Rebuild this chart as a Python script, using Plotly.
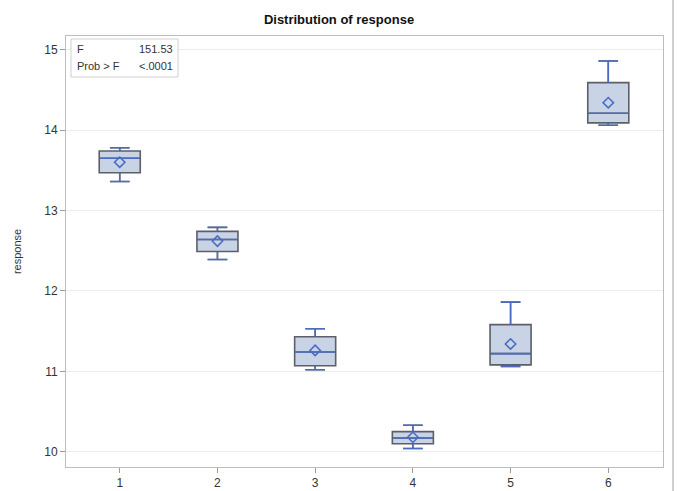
import plotly.graph_objects as go

groups = [1, 2, 3, 4, 5, 6]
q1 = [13.47, 12.49, 11.07, 10.10, 11.08, 14.09]
median = [13.65, 12.64, 11.24, 10.17, 11.22, 14.21]
q3 = [13.74, 12.74, 11.43, 10.25, 11.58, 14.59]
lower = [13.36, 12.39, 11.02, 10.04, 11.06, 14.06]
upper = [13.78, 12.79, 11.53, 10.33, 11.86, 14.86]
means = [13.60, 12.62, 11.26, 10.18, 11.34, 14.34]

BOXW = 0.42
CAPW = 0.10
BLUE = "#4a6cc2"
GRAY = "#5c5f68"
FILL = "#c8d3e6"
FONT = "Liberation Sans, Arial, sans-serif"

fig = go.Figure()
fig.add_trace(go.Box(
    x=groups, q1=q1, median=median, q3=q3, lowerfence=lower, upperfence=upper,
    width=BOXW, whiskerwidth=0.48, fillcolor=FILL,
    line=dict(color=GRAY, width=1.6), showlegend=False, hoverinfo="skip",
))

# blue whiskers and median lines
wx, wy, mx, my = [], [], [], []
for g, a, b, lo, hi, m in zip(groups, q1, q3, lower, upper, median):
    wx += [g, g, None, g - CAPW, g + CAPW, None, g, g, None, g - CAPW, g + CAPW, None]
    wy += [b, hi, None, hi, hi, None, a, lo, None, lo, lo, None]
    mx += [g - BOXW / 2 + 0.01, g + BOXW / 2 - 0.01, None]
    my += [m, m, None]
fig.add_trace(go.Scatter(x=wx, y=wy, mode="lines", line=dict(color=BLUE, width=1.4),
                         showlegend=False, hoverinfo="skip"))
fig.add_trace(go.Scatter(x=mx, y=my, mode="lines", line=dict(color=BLUE, width=1.6),
                         showlegend=False, hoverinfo="skip"))
fig.add_trace(go.Scatter(x=groups, y=means, mode="markers",
                         marker=dict(symbol="diamond-open", size=8, color=BLUE,
                                     line=dict(color=BLUE, width=1.6)),
                         showlegend=False, hoverinfo="skip"))

axis_common = dict(showline=True, linecolor="#bdbdbd", linewidth=1, mirror=True,
                   ticks="outside", ticklen=5, tickcolor="#9a9a9a",
                   tickfont=dict(family=FONT, size=12, color="#333333"),
                   zeroline=False, automargin=False)
fig.update_xaxes(range=[0.45, 6.56], tickvals=groups, showgrid=False, **axis_common)
fig.update_yaxes(range=[9.81, 15.17], tickvals=[10, 11, 12, 13, 14, 15],
                 showgrid=True, gridcolor="#ececec", gridwidth=1,
                 title=dict(text="response", font=dict(family=FONT, size=11, color="#333333"),
                            standoff=20),
                 **axis_common)

W, H = 678, 491
L, R, T, B = 66, 15, 36, 24
pw, ph = W - L - R, H - T - B

def px(x):
    return (x - L) / pw

def py(y):
    return 1 - (y - T) / ph

fig.update_layout(
    width=W, height=H,
    margin=dict(l=L, r=R, t=T, b=B, autoexpand=False),
    paper_bgcolor="white", plot_bgcolor="white",
    title=dict(text="<b>Distribution of response</b>", x=px(364.5), xanchor="center",
               y=1 - 19 / H, yanchor="middle",
               font=dict(family=FONT, size=13, color="#111111")),
    shapes=[
        dict(type="rect", xref="paper", yref="paper", x0=px(71), x1=px(178), y0=py(77), y1=py(39),
             line=dict(color="#cfcfcf", width=1), fillcolor="white", layer="above"),
        dict(type="line", xref="paper", yref="paper", x0=px(673), x1=px(673), y0=py(491), y1=py(0),
             line=dict(color="#d0d0d0", width=2)),
    ],
    annotations=[
        dict(text="F", xref="paper", yref="paper", x=px(75), y=py(49), xanchor="left", yanchor="middle",
             showarrow=False, font=dict(family=FONT, size=11, color="#333333")),
        dict(text="151.53", xref="paper", yref="paper", x=px(175), y=py(49), xanchor="right", yanchor="middle",
             showarrow=False, font=dict(family=FONT, size=11, color="#333333")),
        dict(text="Prob &gt; F", xref="paper", yref="paper", x=px(75), y=py(66), xanchor="left", yanchor="middle",
             showarrow=False, font=dict(family=FONT, size=11, color="#333333")),
        dict(text="&lt;.0001", xref="paper", yref="paper", x=px(175), y=py(66), xanchor="right", yanchor="middle",
             showarrow=False, font=dict(family=FONT, size=11, color="#333333")),
    ],
)

fig.write_html("out.html")
